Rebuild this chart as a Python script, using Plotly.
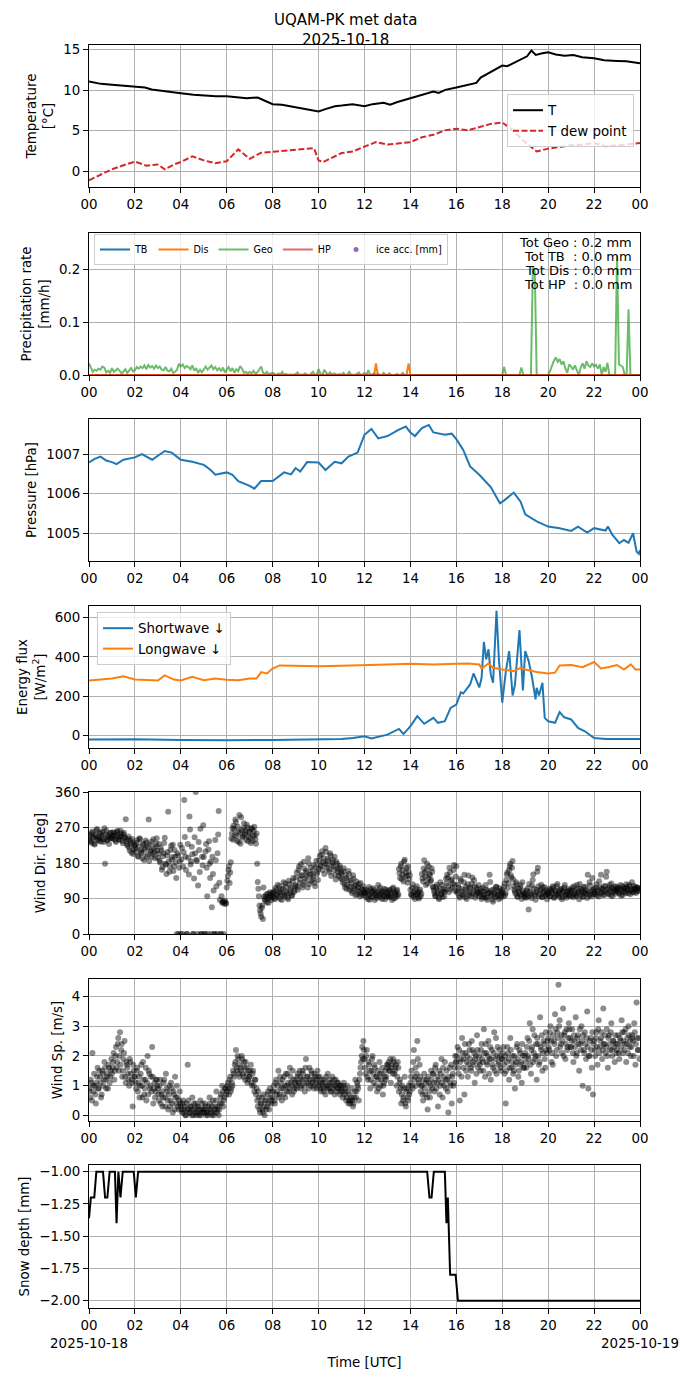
"""
UQAM-PK met data, 2025-10-18: seven stacked panels sharing a 24 h time axis.
Output: out.html
"""
import numpy as np
import pandas as pd
import plotly.graph_objects as go

DAY = pd.Timestamp("2025-10-18")
TITLE_LINES = ["UQAM-PK met data", "2025-10-18"]

# ---- temperature / dew point (hours, degC) ----
T_H = [0, 0.52, 1.0, 1.48, 2.0, 2.44, 2.73, 3.21, 3.69, 4.0, 4.56, 5.0, 5.52, 6.0, 6.48, 6.87,
       7.35, 7.63, 8.0, 8.4, 8.79, 9.17, 9.56, 10.0, 10.33, 10.71, 11.0, 11.48, 12.0, 12.35,
       12.83, 13.12, 13.4, 14.0, 14.46, 15.0, 15.23, 15.52, 16.0, 16.48, 16.87, 17.06, 17.35,
       17.63, 18.0, 18.21, 18.5, 18.79, 19.08, 19.27, 19.46, 19.75, 20.0, 20.33, 20.71, 21.1,
       21.48, 22.0, 22.44, 23.0, 23.4, 24.0]
T_C = [11.07, 10.78, 10.66, 10.57, 10.49, 10.33, 10.08, 9.88, 9.67, 9.63, 9.43, 9.34, 9.26,
       9.26, 9.1, 9.02, 9.1, 8.73, 8.28, 8.2, 7.99, 7.79, 7.58, 7.38, 7.7, 8.03, 8.11, 8.28,
       8.03, 8.28, 8.44, 8.2, 8.52, 9.02, 9.34, 9.84, 9.67, 10.04, 10.33, 10.66, 10.9, 11.56,
       12.01, 12.42, 13.03, 12.95, 13.36, 13.77, 14.18, 14.88, 14.34, 14.55, 14.67, 14.39,
       14.26, 14.34, 14.06, 13.93, 13.69, 13.61, 13.57, 13.32]
TD_H = [0, 0.5, 1, 1.5, 2, 2.5, 3, 3.3, 3.7, 4, 4.5, 5, 5.5, 6, 6.5, 7, 7.5, 8, 9, 9.8, 10,
        10.2, 11, 11.5, 12, 12.5, 13, 14, 14.5, 15, 15.5, 16, 16.5, 17, 17.5, 18, 18.3, 19,
        19.5, 20, 21, 21.5, 22, 22.5, 23, 24]
TD_C = [-1.1, -0.4, 0.25, 0.75, 1.2, 0.7, 0.85, 0.25, 0.85, 1.15, 1.85, 1.35, 1.0, 1.25, 2.7,
        1.55, 2.3, 2.4, 2.6, 2.85, 1.35, 1.15, 2.25, 2.45, 3.05, 3.6, 3.3, 3.6, 4.2, 4.5, 5.05,
        5.25, 5.05, 5.45, 5.85, 6.0, 5.45, 3.6, 2.45, 2.8, 3.2, 3.3, 3.5, 3.1, 3.2, 3.5]

# ---- precipitation rate, 5-min rows per hour (mm/h) ----
GEO = [
    [0.022, 0.012, 0.006, 0.010, 0.008, 0.012, 0.010, 0.016, 0.014, 0.005, 0.008, 0.004],
    [0.013, 0.006, 0.010, 0.012, 0.008, 0.003, 0.006, 0.011, 0.004, 0.009, 0.013, 0.007],
    [0.009, 0.015, 0.012, 0.016, 0.013, 0.018, 0.011, 0.019, 0.014, 0.017, 0.012, 0.018],
    [0.013, 0.016, 0.010, 0.009, 0.015, 0.008, 0.007, 0.012, 0.004, 0.006, 0.010, 0.021],
    [0.016, 0.020, 0.013, 0.017, 0.015, 0.011, 0.018, 0.008, 0.013, 0.004, 0.010, 0.005],
    [0.012, 0.016, 0.010, 0.014, 0.018, 0.011, 0.015, 0.009, 0.013, 0.007, 0.014, 0.005],
    [0.010, 0.015, 0.007, 0.013, 0.004, 0.011, 0.007, 0.017, 0.012, 0.004, 0.006, 0.002],
    [0.006, 0.003, 0.008, 0.002, 0.005, 0.010, 0.016, 0.004, 0.002, 0.006, 0.001, 0.003],
    [0.004, 0.002, 0.000, 0.003, 0.001, 0.006, 0.000, 0.002, 0.000, 0.001, 0.000, 0.000],
    [0.002, 0.005, 0.000, 0.001, 0.000, 0.003, 0.000, 0.000, 0.002, 0.006, 0.001, 0.000],
    [0.011, 0.002, 0.000, 0.010, 0.004, 0.001, 0.005, 0.000, 0.003, 0.001, 0.000, 0.002],
    [0.000, 0.004, 0.000, 0.000, 0.006, 0.001, 0.000, 0.000, 0.002, 0.005, 0.000, 0.001],
    [0.004, 0.000, 0.009, 0.000, 0.001, 0.003, 0.000, 0.002, 0.000, 0.000, 0.004, 0.000],
    [0.000, 0.003, 0.000, 0.000, 0.000, 0.002, 0.000, 0.000, 0.004, 0.000, 0.000, 0.000],
    [0.0] * 12,
    [0.0] * 12,
    [0.0] * 12,
    [0.0] * 12,
    [0.000, 0.015, 0.000, 0.000, 0.000, 0.000, 0.000, 0.000, 0.000, 0.000, 0.014, 0.000],
    [0.000, 0.000, 0.000, 0.000, 0.205, 0.195, 0.000, 0.000, 0.000, 0.000, 0.000, 0.000],
    [0.000, 0.008, 0.018, 0.027, 0.033, 0.025, 0.030, 0.020, 0.026, 0.012, 0.004, 0.020],
    [0.016, 0.010, 0.018, 0.008, 0.000, 0.014, 0.022, 0.012, 0.026, 0.018, 0.015, 0.022],
    [0.016, 0.019, 0.012, 0.020, 0.000, 0.015, 0.006, 0.023, 0.000, 0.000, 0.000, 0.000],
    [0.225, 0.020, 0.018, 0.015, 0.000, 0.000, 0.124, 0.000, 0.000, 0.000, 0.000, 0.000],
]
DIS_H = [0, 12.42, 12.5, 12.58, 13.83, 13.92, 14.0, 24]
DIS = [0, 0, 0.022, 0, 0, 0.022, 0, 0]
TB_H, TB = [0, 24], [0, 0]
HP_H, HP = [0, 24], [0, 0]
TOTALS = [("Tot Geo", 0.2), ("Tot TB\u00a0", 0.0), ("Tot Dis", 0.0), ("Tot HP\u00a0", 0.0)]

# ---- pressure (hPa) ----
P_H = [0, 0.25, 0.5, 0.75, 1, 1.2, 1.5, 2, 2.3, 2.5, 2.75, 3, 3.3, 3.6, 4, 4.5, 5, 5.3, 5.5,
       6, 6.25, 6.5, 7, 7.2, 7.5, 8, 8.3, 8.5, 8.8, 9, 9.2, 9.5, 10, 10.3, 10.7, 11, 11.3,
       11.7, 12, 12.3, 12.6, 13, 13.5, 13.8, 14, 14.2, 14.5, 14.8, 15, 15.5, 15.8, 16, 16.3,
       16.6, 17, 17.5, 17.9, 18.1, 18.5, 18.8, 19, 19.5, 20, 20.5, 21, 21.3, 21.7, 22, 22.5,
       22.6, 22.8, 23.1, 23.3, 23.5, 23.7, 23.85, 23.95, 24]
P_HPA = [1006.79, 1006.88, 1006.94, 1006.84, 1006.80, 1006.75, 1006.86, 1006.92, 1007.0,
         1006.94, 1006.86, 1006.96, 1007.08, 1007.04, 1006.86, 1006.81, 1006.73, 1006.6,
         1006.48, 1006.54, 1006.48, 1006.32, 1006.2, 1006.13, 1006.32, 1006.32, 1006.45,
         1006.54, 1006.49, 1006.65, 1006.56, 1006.80, 1006.79, 1006.6, 1006.81, 1006.77,
         1006.94, 1007.04, 1007.49, 1007.64, 1007.4, 1007.46, 1007.62, 1007.7, 1007.55,
         1007.46, 1007.66, 1007.74, 1007.55, 1007.49, 1007.52, 1007.38, 1007.11, 1006.69,
         1006.48, 1006.17, 1005.76, 1005.84, 1006.03, 1005.8, 1005.48, 1005.3, 1005.17,
         1005.13, 1005.06, 1005.17, 1005.02, 1005.13, 1005.07, 1005.17, 1004.96, 1004.75,
         1004.83, 1004.76, 1005.0, 1004.54, 1004.48, 1004.58]

# ---- radiation (W/m2) ----
SW_H = [0, 2, 4, 6, 8, 10, 11, 11.5, 12, 12.3, 13, 13.5, 13.7, 14, 14.3, 14.6, 15, 15.2, 15.5,
        15.75, 16, 16.2, 16.3, 16.6, 16.75, 17, 17.1, 17.2, 17.3, 17.4, 17.5, 17.6, 17.75,
        17.85, 18, 18.15, 18.3, 18.45, 18.55, 18.75, 18.9, 19, 19.15, 19.3, 19.45, 19.5, 19.6,
        19.75, 19.85, 20, 20.3, 20.5, 20.7, 21, 21.3, 21.6, 22, 22.5, 23, 24]
SW = [-20, -18, -22, -24, -22, -19, -17, -12, -3, -15, 5, 34, 8, 48, 99, 60, 90, 65, 73, 141,
      158, 221, 214, 260, 316, 245, 294, 476, 388, 439, 311, 269, 634, 396, 167, 320, 430, 204,
      255, 537, 230, 430, 379, 294, 184, 243, 204, 269, 90, 73, 65, 119, 93, 82, 39, 22, -12,
      -17, -17, -17]
LW_H = [0, 1, 1.5, 2, 3, 3.3, 3.7, 4, 4.5, 5, 5.5, 6, 6.5, 7, 7.3, 7.5, 7.75, 8, 8.3, 9, 10,
        11, 12, 13, 14, 15, 16, 16.5, 17, 17.1, 17.4, 17.6, 18, 18.5, 18.8, 19, 19.5, 20, 20.3,
        20.5, 21, 21.5, 22, 22.3, 22.6, 23, 23.3, 23.6, 23.8, 24]
LW = [280, 290, 302, 285, 280, 306, 285, 280, 299, 282, 290, 284, 282, 290, 290, 323, 316, 341,
      357, 355, 353, 355, 357, 362, 365, 362, 365, 367, 362, 341, 367, 345, 336, 328, 345, 336,
      323, 316, 320, 357, 359, 348, 374, 341, 348, 359, 336, 362, 336, 336]

# ---- wind: two interleaved samplings, 20 values per hour each ----
WIND_DIR = [
    [238, 252, 231, 260, 245, 227, 248, 266, 241, 236, 255, 244, 259, 233, 178, 262, 239, 250, 242, 256],
    [243, 258, 249, 237, 251, 262, 240, 247, 255, 236, 252, 245, 291, 228, 241, 219, 237, 206, 232, 215],
    [224, 209, 238, 196, 243, 213, 205, 229, 187, 218, 232, 201, 290, 226, 212, 196, 240, 207, 221, 243],
    [193, 228, 181, 212, 169, 205, 244, 176, 199, 310, 158, 213, 188, 226, 172, 196, 142, 205, 0, 184],
    [0, 218, 171, 340, 196, 0, 228, 151, 265, 184, 202, 0, 245, 360, 185, 123, 213, 267, 0, 174],
    [195, 0, 228, 96, 214, 178, 183, 68, 152, 0, 238, 121, 205, 312, 86, 0, 79, 82, 76, 80],
    [118, 147, 172, 156, 242, 268, 275, 251, 284, 236, 259, 302, 229, 263, 248, 281, 255, 238, 270, 246],
    [258, 231, 266, 249, 272, 240, 255, 132, 96, 60, 44, 72, 118, 88, 95, 80, 102, 92, 98, 86],
    [96, 108, 88, 112, 101, 94, 121, 105, 86, 115, 99, 128, 108, 92, 135, 103, 118, 97, 142, 110],
    [124, 156, 112, 171, 138, 149, 118, 183, 132, 160, 145, 192, 127, 168, 153, 139, 175, 121, 186, 158],
    [165, 198, 172, 210, 183, 152, 218, 176, 191, 163, 205, 147, 182, 171, 196, 138, 179, 158, 168, 142],
    [154, 131, 167, 118, 142, 125, 160, 112, 136, 104, 149, 121, 98, 133, 110, 127, 95, 116, 103, 121],
    [98, 112, 105, 88, 119, 101, 93, 108, 116, 86, 103, 97, 124, 110, 92, 105, 99, 115, 88, 102],
    [107, 95, 112, 99, 86, 118, 103, 92, 109, 97, 165, 142, 178, 151, 133, 188, 156, 147, 171, 139],
    [112, 98, 126, 104, 89, 115, 101, 93, 108, 96, 152, 133, 187, 145, 162, 128, 171, 149, 137, 158],
    [118, 104, 96, 125, 110, 88, 131, 101, 94, 115, 107, 140, 150, 122, 168, 113, 139, 128, 175, 109],
    [172, 104, 117, 92, 135, 108, 98, 150, 113, 89, 126, 102, 118, 95, 143, 107, 121, 99, 112, 104],
    [96, 108, 89, 117, 101, 93, 112, 86, 104, 150, 97, 111, 82, 106, 94, 119, 100, 88, 109, 97],
    [112, 95, 128, 104, 151, 117, 162, 178, 143, 185, 122, 108, 131, 96, 115, 102, 124, 89, 110, 99],
    [104, 92, 116, 62, 108, 98, 123, 151, 101, 87, 112, 168, 96, 109, 125, 93, 105, 118, 100, 88],
    [102, 115, 96, 108, 121, 91, 110, 99, 127, 104, 94, 113, 88, 106, 118, 100, 92, 109, 97, 111],
    [105, 118, 93, 110, 99, 124, 102, 88, 115, 107, 96, 120, 104, 111, 91, 108, 131, 100, 95, 112],
    [114, 101, 126, 108, 95, 119, 150, 106, 113, 99, 122, 158, 104, 117, 110, 128, 96, 112, 108, 121],
    [109, 116, 102, 124, 112, 99, 118, 107, 126, 114, 103, 121, 110, 131, 105, 115, 120, 108, 117, 113],
]
WIND_DIR_B = [
    [247, 235, 256, 242, 229, 251, 263, 238, 245, 258, 234, 249, 240, 268, 253, 237, 246, 228, 257, 244],
    [250, 241, 256, 233, 259, 246, 239, 262, 248, 230, 257, 243, 236, 224, 247, 212, 229, 241, 203, 226],
    [217, 231, 198, 222, 240, 208, 192, 226, 214, 237, 196, 221, 185, 209, 234, 203, 217, 192, 229, 211],
    [204, 186, 219, 163, 197, 231, 178, 152, 208, 184, 171, 224, 195, 160, 213, 181, 0, 199, 168, 226],
    [189, 0, 207, 246, 162, 0, 193, 298, 176, 221, 0, 141, 205, 188, 0, 233, 157, 0, 196, 276],
    [0, 209, 168, 0, 235, 142, 0, 196, 110, 0, 187, 0, 252, 130, 0, 96, 81, 0, 84, 77],
    [135, 162, 129, 182, 255, 239, 266, 290, 248, 272, 233, 257, 296, 244, 268, 251, 262, 277, 235, 259],
    [244, 269, 236, 262, 250, 229, 178, 115, 72, 52, 66, 38, 95, 84, 101, 90, 79, 106, 93, 104],
    [103, 91, 117, 98, 125, 107, 89, 113, 100, 131, 95, 119, 104, 88, 126, 112, 98, 134, 106, 121],
    [143, 119, 162, 130, 177, 148, 125, 166, 140, 155, 118, 179, 150, 134, 161, 146, 129, 170, 152, 137],
    [186, 174, 201, 162, 192, 178, 208, 168, 186, 157, 199, 175, 188, 163, 150, 183, 165, 147, 173, 156],
    [139, 160, 126, 148, 114, 137, 152, 119, 128, 109, 140, 115, 124, 101, 118, 106, 129, 99, 112, 107],
    [104, 93, 110, 99, 87, 114, 106, 95, 111, 100, 91, 107, 96, 118, 102, 89, 108, 97, 113, 94],
    [99, 110, 94, 104, 115, 90, 106, 98, 112, 101, 154, 171, 139, 162, 184, 145, 168, 130, 158, 149],
    [101, 117, 94, 108, 99, 121, 105, 90, 113, 102, 141, 166, 156, 124, 178, 140, 152, 134, 167, 120],
    [110, 97, 119, 104, 92, 116, 102, 124, 107, 95, 112, 128, 143, 106, 156, 135, 118, 162, 124, 146],
    [109, 125, 96, 140, 114, 101, 131, 93, 120, 107, 148, 98, 115, 128, 103, 136, 92, 117, 106, 124],
    [102, 115, 93, 108, 98, 124, 91, 110, 104, 132, 99, 87, 113, 101, 120, 95, 107, 116, 92, 103],
    [105, 119, 98, 137, 156, 129, 171, 149, 168, 138, 113, 102, 126, 94, 108, 117, 99, 131, 104, 93],
    [99, 110, 95, 127, 103, 91, 137, 115, 98, 106, 158, 121, 100, 113, 94, 119, 107, 97, 111, 102],
    [108, 96, 112, 103, 118, 94, 107, 122, 99, 110, 101, 115, 93, 109, 124, 98, 106, 114, 100, 95],
    [111, 99, 121, 104, 96, 115, 108, 127, 100, 113, 94, 106, 119, 102, 150, 97, 123, 109, 142, 101],
    [106, 118, 97, 111, 134, 103, 115, 99, 121, 108, 145, 112, 101, 124, 98, 116, 106, 119, 102, 113],
    [118, 105, 112, 97, 121, 108, 115, 103, 119, 110, 124, 101, 113, 107, 122, 114, 104, 118, 109, 116],
]
WIND_SP = [
    [0.9, 0.6, 1.1, 2.1, 0.8, 1.0, 0.4, 1.3, 0.9, 1.5, 1.1, 0.7, 1.4, 1.2, 1.6, 0.9, 1.3, 1.7, 1.1, 1.5],
    [1.4, 1.8, 1.2, 2.0, 1.6, 2.4, 1.5, 2.8, 2.2, 1.3, 1.9, 2.5, 1.1, 1.7, 1.4, 1.0, 1.8, 1.2, 0.3, 1.5],
    [1.3, 0.9, 1.6, 1.1, 0.6, 1.4, 1.0, 1.8, 0.7, 1.2, 0.5, 2.0, 1.5, 0.9, 1.3, 2.3, 0.4, 1.1, 0.8, 1.2],
    [0.9, 0.5, 1.2, 0.7, 0.3, 1.1, 0.6, 1.4, 0.8, 0.2, 1.0, 0.5, 0.9, 0.1, 0.7, 1.3, 0.4, 0.6, 0.2, 0.8],
    [0.3, 0.1, 0.5, 0.2, 0.0, 0.4, 1.7, 0.2, 0.1, 0.3, 0.6, 0.0, 0.2, 0.4, 0.1, 0.3, 0.0, 0.5, 0.2, 0.1],
    [0.2, 0.4, 0.0, 0.1, 0.3, 0.6, 0.2, 0.0, 0.5, 0.1, 0.3, 0.8, 0.2, 0.0, 0.4, 0.7, 1.0, 0.3, 0.6, 0.9],
    [0.8, 1.1, 0.7, 1.3, 0.9, 1.0, 1.4, 1.7, 2.2, 1.5, 1.9, 1.3, 1.6, 2.0, 1.4, 1.8, 1.2, 1.6, 1.1, 1.5],
    [1.3, 1.7, 1.0, 1.5, 0.8, 1.2, 0.9, 0.3, 0.6, 0.1, 0.4, 0.2, 0.7, 0.0, 0.5, 0.3, 0.8, 0.2, 0.6, 0.4],
    [0.6, 1.0, 0.4, 1.2, 0.8, 1.5, 0.7, 1.1, 0.5, 0.9, 1.3, 0.6, 1.0, 1.4, 0.8, 1.6, 1.1, 0.7, 1.2, 0.9],
    [1.2, 0.9, 1.4, 1.1, 1.3, 1.0, 1.5, 1.2, 0.8, 1.9, 1.3, 1.1, 1.6, 1.0, 1.4, 1.2, 0.9, 1.3, 1.1, 1.5],
    [1.0, 1.3, 0.8, 1.1, 0.9, 1.2, 0.7, 1.0, 1.4, 0.9, 1.1, 0.8, 1.3, 1.0, 0.7, 1.2, 0.9, 1.1, 1.0, 0.8],
    [0.9, 0.6, 1.1, 0.8, 0.5, 1.0, 0.4, 0.7, 0.5, 0.9, 0.3, 0.6, 1.2, 0.8, 1.0, 0.5, 1.4, 1.8, 2.3, 2.5],
    [1.9, 1.4, 2.2, 1.2, 1.7, 0.9, 1.5, 2.0, 1.1, 1.6, 1.3, 0.8, 1.2, 1.8, 1.0, 1.4, 0.7, 1.1, 1.5, 1.3],
    [1.6, 1.8, 1.5, 1.1, 1.7, 1.9, 1.4, 1.6, 1.0, 1.8, 0.8, 1.2, 0.4, 1.0, 0.6, 1.3, 0.3, 0.9, 0.5, 0.7],
    [1.1, 1.5, 0.9, 2.2, 1.3, 1.0, 2.5, 1.2, 1.7, 0.8, 1.0, 0.5, 1.4, 0.7, 1.2, 0.2, 1.1, 0.6, 1.5, 0.9],
    [1.4, 0.8, 1.7, 1.1, 0.3, 1.5, 1.0, 1.9, 0.6, 1.3, 1.8, 0.9, 1.2, 0.1, 1.6, 1.0, 0.4, 1.4, 1.1, 2.0],
    [1.8, 2.3, 1.4, 0.5, 1.9, 2.6, 1.6, 0.7, 2.1, 1.8, 1.3, 2.4, 1.9, 1.5, 2.2, 1.7, 1.1, 2.0, 2.7, 1.6],
    [2.0, 1.5, 2.4, 1.8, 2.9, 1.3, 2.1, 1.7, 2.5, 1.9, 1.2, 2.2, 1.6, 2.8, 1.9, 1.4, 2.3, 1.8, 2.0, 1.5],
    [1.9, 2.3, 1.4, 0.4, 1.8, 2.1, 1.2, 2.6, 1.6, 2.0, 1.5, 0.9, 1.8, 2.4, 1.3, 2.2, 1.7, 1.1, 2.0, 1.6],
    [2.1, 1.6, 2.6, 1.9, 3.1, 1.4, 2.3, 1.8, 2.7, 2.0, 1.2, 2.4, 1.7, 3.3, 2.2, 1.5, 2.5, 1.9, 2.8, 2.1],
    [2.6, 2.2, 3.0, 1.8, 1.7, 2.5, 3.4, 2.0, 2.8, 4.4, 3.2, 2.4, 2.1, 3.6, 2.7, 1.9, 2.9, 2.3, 3.1, 2.6],
    [2.3, 2.9, 1.8, 2.5, 3.3, 2.1, 2.7, 1.5, 2.4, 3.0, 1.0, 2.2, 2.8, 1.9, 3.5, 0.9, 2.0, 2.6, 1.6, 0.7],
    [2.5, 2.0, 2.8, 1.7, 3.2, 2.3, 2.6, 1.9, 3.6, 2.4, 2.1, 2.9, 1.6, 2.7, 2.2, 3.1, 2.0, 2.5, 1.8, 2.4],
    [2.2, 2.7, 1.9, 2.5, 3.2, 2.1, 2.8, 2.4, 1.8, 2.6, 3.0, 2.3, 2.0, 2.7, 2.5, 3.1, 1.7, 3.8, 2.2, 2.6],
]
WIND_SP_B = [
    [0.8, 1.2, 0.5, 1.0, 1.4, 0.7, 1.1, 1.6, 0.9, 1.3, 0.6, 1.5, 1.0, 1.8, 1.2, 1.4, 0.9, 1.6, 1.3, 1.9],
    [1.6, 2.1, 1.5, 2.3, 1.8, 2.6, 2.0, 1.7, 2.4, 1.5, 2.1, 1.3, 1.8, 1.6, 1.2, 1.9, 1.4, 1.1, 1.7, 1.3],
    [1.1, 1.5, 0.8, 1.3, 1.0, 1.7, 0.6, 1.2, 0.9, 1.6, 1.1, 0.7, 1.4, 1.0, 0.8, 1.3, 0.9, 0.6, 1.2, 1.0],
    [0.7, 1.0, 0.4, 0.8, 0.6, 1.2, 0.3, 0.9, 0.5, 0.7, 0.3, 1.1, 0.4, 0.8, 0.2, 0.6, 1.0, 0.3, 0.5, 0.4],
    [0.2, 0.4, 0.1, 0.3, 0.0, 0.2, 0.5, 0.1, 0.3, 0.0, 0.2, 0.4, 0.1, 0.0, 0.3, 0.2, 0.1, 0.0, 0.4, 0.2],
    [0.1, 0.3, 0.1, 0.0, 0.2, 0.4, 0.1, 0.3, 0.0, 0.2, 0.5, 0.1, 0.3, 0.2, 0.6, 0.4, 0.8, 0.5, 0.9, 0.7],
    [1.0, 0.9, 1.2, 0.8, 1.1, 1.5, 1.3, 1.8, 1.6, 2.0, 1.4, 1.7, 1.5, 1.9, 1.3, 1.6, 1.8, 1.4, 1.2, 1.3],
    [1.5, 1.1, 1.4, 1.0, 1.2, 0.7, 0.5, 0.8, 0.2, 0.4, 0.6, 0.1, 0.3, 0.5, 0.2, 0.7, 0.4, 0.9, 0.5, 0.8],
    [0.8, 0.5, 1.1, 0.7, 1.0, 0.6, 1.3, 0.9, 1.2, 0.7, 1.0, 1.4, 0.8, 1.1, 0.9, 1.3, 1.0, 1.5, 0.8, 1.1],
    [1.0, 1.3, 1.1, 1.5, 0.9, 1.2, 1.4, 1.0, 1.6, 1.1, 1.3, 0.9, 1.2, 1.5, 1.1, 1.0, 1.4, 1.2, 0.9, 1.3],
    [1.1, 0.9, 1.2, 1.0, 0.8, 1.1, 1.3, 0.9, 1.0, 1.2, 0.8, 1.1, 0.9, 1.2, 1.0, 0.8, 1.1, 0.9, 0.7, 1.0],
    [0.8, 1.0, 0.7, 0.9, 0.6, 0.8, 0.5, 0.4, 0.6, 0.5, 0.4, 0.8, 0.6, 1.1, 0.9, 1.2, 1.6, 2.0, 1.9, 2.2],
    [1.6, 2.0, 1.3, 1.8, 1.5, 1.2, 1.9, 1.4, 1.7, 1.0, 1.3, 1.5, 0.9, 1.4, 1.2, 1.6, 1.0, 1.3, 1.2, 1.7],
    [1.7, 1.5, 1.9, 1.6, 1.4, 1.8, 1.5, 1.7, 1.3, 1.6, 1.1, 0.9, 0.7, 0.5, 0.9, 0.4, 0.8, 0.6, 1.0, 0.8],
    [1.3, 1.0, 1.8, 1.2, 1.6, 1.4, 1.9, 1.1, 1.3, 1.0, 0.7, 1.2, 0.9, 1.1, 0.6, 1.3, 0.8, 1.0, 1.2, 1.4],
    [1.1, 1.6, 0.9, 1.3, 1.2, 0.7, 1.4, 1.1, 1.6, 1.0, 1.2, 1.5, 0.8, 1.3, 1.1, 1.7, 1.3, 1.0, 1.6, 1.8],
    [2.0, 1.6, 2.2, 1.8, 1.3, 2.1, 1.9, 2.4, 1.5, 2.0, 1.7, 2.2, 1.6, 2.5, 1.8, 2.1, 1.9, 1.4, 2.2, 1.8],
    [1.7, 2.2, 1.9, 1.5, 2.1, 2.4, 1.8, 2.0, 1.4, 2.3, 1.9, 1.7, 2.1, 1.5, 2.6, 2.0, 1.7, 2.2, 1.6, 1.9],
    [2.1, 1.7, 2.0, 1.5, 2.3, 1.9, 1.6, 2.2, 1.8, 1.4, 2.0, 1.7, 2.3, 1.9, 1.5, 2.1, 1.8, 2.4, 1.6, 2.0],
    [1.8, 2.3, 2.0, 2.5, 1.7, 2.2, 2.9, 2.1, 1.9, 2.4, 2.6, 2.0, 1.8, 2.3, 2.7, 2.1, 2.4, 1.6, 2.2, 2.5],
    [2.3, 2.8, 2.5, 2.1, 2.7, 2.4, 2.9, 2.2, 2.6, 3.0, 2.3, 2.7, 2.5, 2.0, 2.8, 2.4, 2.2, 2.6, 2.9, 2.3],
    [2.5, 2.1, 2.7, 2.3, 2.0, 2.6, 2.4, 2.9, 2.2, 2.5, 2.7, 2.1, 2.4, 2.6, 2.3, 2.0, 2.5, 2.2, 2.8, 2.4],
    [2.2, 2.6, 2.3, 2.9, 2.1, 2.5, 2.8, 2.2, 2.4, 2.7, 2.3, 2.0, 2.6, 2.4, 2.8, 2.2, 2.5, 2.3, 2.7, 2.1],
    [2.4, 2.1, 2.6, 2.3, 2.8, 2.5, 2.2, 2.9, 2.4, 2.1, 2.7, 2.5, 2.3, 2.6, 2.0, 2.8, 2.4, 2.6, 2.2, 1.9],
]

# ---- snow depth (mm) ----
SNOW_H = [0, 0.08, 0.23, 0.32, 0.61, 0.7, 0.8, 0.9, 1.13, 1.2, 1.28, 1.37, 1.47, 1.95, 2.04,
          2.14, 14.73, 14.83, 14.92, 15.02, 15.5, 15.57, 15.63, 15.73, 15.97, 16.07, 24]
SNOW = [-1.36, -1.2, -1.2, -1.0, -1.0, -1.2, -1.2, -1.0, -1.0, -1.4, -1.0, -1.2, -1.0, -1.0,
        -1.2, -1.0, -1.0, -1.2, -1.2, -1.0, -1.0, -1.4, -1.2, -1.8, -1.8, -2.0, -2.0]


def at(hours):
    return DAY + pd.to_timedelta(np.asarray(hours, dtype=float), unit="h")


def from_rows(rows, close=None, offset=0.0):
    hrs, vals = [], []
    for h, row in enumerate(rows):
        for j, v in enumerate(row):
            hrs.append(h + (j + offset) / len(row))
            vals.append(v)
    if close is not None:
        hrs.append(len(rows))
        vals.append(close)
    return at(hrs), vals


# Layout geometry, written in page pixels of the 690x1377 window.  The html
# page adds an 8 px body margin, so the figure itself is 8 px smaller.
PAGE = 8
FIG_W, FIG_H = 690 - PAGE, 1377 - PAGE
AX_L, AX_R = 89, 640
PANELS = [(45, 187), (233, 375), (419, 561), (606, 748), (792, 934), (979, 1121), (1165, 1308)]
ML, MR = AX_L - PAGE, FIG_W - (AX_R - PAGE)
MT, MB = PANELS[0][0] - PAGE, FIG_H - (PANELS[-1][1] - PAGE)
PLOT_H = FIG_H - MT - MB
PLOT_W = FIG_W - ML - MR


def py(p):
    return (PANELS[-1][1] - p) / PLOT_H


def px_(p):
    return (p - AX_L) / PLOT_W


FONT = "DejaVu Sans"
FS = 13.4
BLUE, ORANGE = "#1f77b4", "#ff7f0e"
DOT = dict(color="rgba(0,0,0,0.45)", size=6, line=dict(width=0))

fig = go.Figure()


def add(tr, k):
    sfx = "" if k == 1 else str(k)
    tr.update(xaxis="x" + sfx, yaxis="y" + sfx)
    fig.add_trace(tr)


# panel 1
add(go.Scatter(x=at(T_H), y=T_C, mode="lines", name="T", line=dict(color="black", width=2),
               legend="legend"), 1)
add(go.Scatter(x=at(TD_H), y=TD_C, mode="lines", name="T dew point",
               line=dict(color="#d62728", width=2, dash="6px,2.5px"), legend="legend"), 1)

# panel 2
gx, gy = from_rows(GEO, close=0.0)
add(go.Scatter(x=at(TB_H), y=TB, mode="lines", name="TB", line=dict(color=BLUE, width=2),
               legend="legend2"), 2)
add(go.Scatter(x=at(DIS_H), y=DIS, mode="lines", name="Dis", line=dict(color=ORANGE, width=2),
               legend="legend2"), 2)
add(go.Scatter(x=gx, y=gy, mode="lines", name="Geo",
               line=dict(color="rgba(44,160,44,0.7)", width=2), legend="legend2"), 2)
add(go.Scatter(x=at(HP_H), y=HP, mode="lines", name="HP",
               line=dict(color="rgba(214,39,40,0.7)", width=2), legend="legend2"), 2)
add(go.Scatter(x=[None], y=[None], mode="markers", name="ice acc. [mm]",
               marker=dict(color="#9467bd", size=5), legend="legend2"), 2)

# panel 3
add(go.Scatter(x=at(P_H), y=P_HPA, mode="lines", line=dict(color=BLUE, width=2),
               showlegend=False), 3)

# panel 4
add(go.Scatter(x=at(SW_H), y=SW, mode="lines", name="Shortwave \u2193",
               line=dict(color=BLUE, width=2), legend="legend3"), 4)
add(go.Scatter(x=at(LW_H), y=LW, mode="lines", name="Longwave \u2193",
               line=dict(color=ORANGE, width=2), legend="legend3"), 4)

# panels 5, 6
for rows, off, k in [(WIND_DIR, 0.0, 5), (WIND_DIR_B, 0.5, 5),
                     (WIND_SP, 0.0, 6), (WIND_SP_B, 0.5, 6)]:
    wx, wy = from_rows(rows, offset=off)
    add(go.Scatter(x=wx, y=wy, mode="markers", showlegend=False, marker=DOT), k)

# panel 7
add(go.Scatter(x=at(SNOW_H), y=SNOW, mode="lines", line=dict(color="black", width=2),
               showlegend=False), 7)

AX = dict(showline=True, linecolor="black", linewidth=1, mirror=True, ticks="outside",
          ticklen=5, tickcolor="black", showgrid=True, gridcolor="#b0b0b0", gridwidth=1,
          zeroline=False, automargin=False, tickfont=dict(size=FS, color="black"))

tick_hours = list(range(0, 25, 2))
tickvals = [t.strftime("%Y-%m-%d %H:%M:%S") for t in at(tick_hours)]
hour_text = ["%02d" % (h % 24) for h in tick_hours]
bottom_text = list(hour_text)
bottom_text[0] = "00<br>2025-10-18"
bottom_text[-1] = "00<br>2025-10-19"

Y_SPECS = [
    dict(title="Temperature<br>[°C]", range=[-1.93, 15.57], tickvals=[0, 5, 10, 15]),
    dict(title="Precipitation rate<br>[mm/h]", range=[0, 0.268], tickvals=[0, 0.1, 0.2],
         tickformat=".1f"),
    dict(title="Pressure [hPa]", range=[1004.3, 1007.89], tickvals=[1005, 1006, 1007]),
    dict(title="Energy flux<br>[W/m<sup>2</sup>]", range=[-63, 659], tickvals=[0, 200, 400, 600]),
    dict(title="Wind Dir. [deg]", range=[0, 360], tickvals=[0, 90, 180, 270, 360]),
    dict(title="Wind Sp. [m/s]", range=[-0.19, 4.59], tickvals=[0, 1, 2, 3, 4]),
    dict(title="Snow depth [mm]", range=[-2.057, -0.948],
         tickvals=[-2.0, -1.75, -1.5, -1.25, -1.0], tickformat=".2f"),
]

# totals box in the precipitation panel, one line each
PANEL2_TOP, PANEL2_BOT = PANELS[1]
notes = [
    dict(text=f"{name} : {v:.1f} mm", x=0.989,
         y=(PANEL2_BOT - (242 + 14 * i)) / (PANEL2_BOT - PANEL2_TOP),
         xref="x2 domain", yref="y2 domain", xanchor="right", yanchor="middle",
         showarrow=False, font=dict(size=13))
    for i, (name, v) in enumerate(TOTALS)
]
# two-line figure title, centred on the page, hung from the top of the figure
notes.append(dict(text="<br>".join(TITLE_LINES), x=(345 - AX_L) / PLOT_W, y=py(PAGE + 1),
                  xref="paper", yref="paper", xanchor="center", yanchor="top",
                  align="center", showarrow=False, font=dict(size=15)))

layout = dict(
    width=FIG_W, height=FIG_H,
    margin=dict(l=ML, r=MR, t=MT, b=MB),
    plot_bgcolor="white", paper_bgcolor="white",
    font=dict(family=FONT, size=FS, color="black"),
    legend=dict(x=px_(507), y=py(94), xanchor="left", yanchor="top",
                bgcolor="rgba(255,255,255,0.8)", bordercolor="#cccccc", borderwidth=1,
                font=dict(size=FS)),
    legend2=dict(x=px_(94), y=py(234), xanchor="left", yanchor="top", orientation="h",
                 bgcolor="rgba(255,255,255,0.8)", bordercolor="#cccccc",
                 borderwidth=1, font=dict(size=9.6)),
    legend3=dict(x=px_(97), y=py(612), xanchor="left", yanchor="top",
                 bgcolor="rgba(255,255,255,0.8)", bordercolor="#cccccc", borderwidth=1,
                 font=dict(size=FS)),
    annotations=notes,
)

for k, ((top, bot), spec) in enumerate(zip(PANELS, Y_SPECS), start=1):
    sfx = "" if k == 1 else str(k)
    last = k == len(PANELS)
    xa = dict(AX, domain=[0, 1], anchor="y" + sfx, type="date", tickangle=0,
              range=[tickvals[0], tickvals[-1]], tickvals=tickvals,
              ticktext=bottom_text if last else hour_text)
    if last:
        xa["title"] = dict(text="Time [UTC]", standoff=8, font=dict(size=FS))
    layout["xaxis" + sfx] = xa
    ya = dict(AX, domain=[py(bot), py(top)], anchor="x" + sfx, range=spec["range"],
              tickvals=spec["tickvals"],
              title=dict(text=spec["title"], standoff=6, font=dict(size=FS)))
    if "tickformat" in spec:
        ya["tickformat"] = spec["tickformat"]
    layout["yaxis" + sfx] = ya

fig.update_layout(**layout)
fig.write_html("out.html")
